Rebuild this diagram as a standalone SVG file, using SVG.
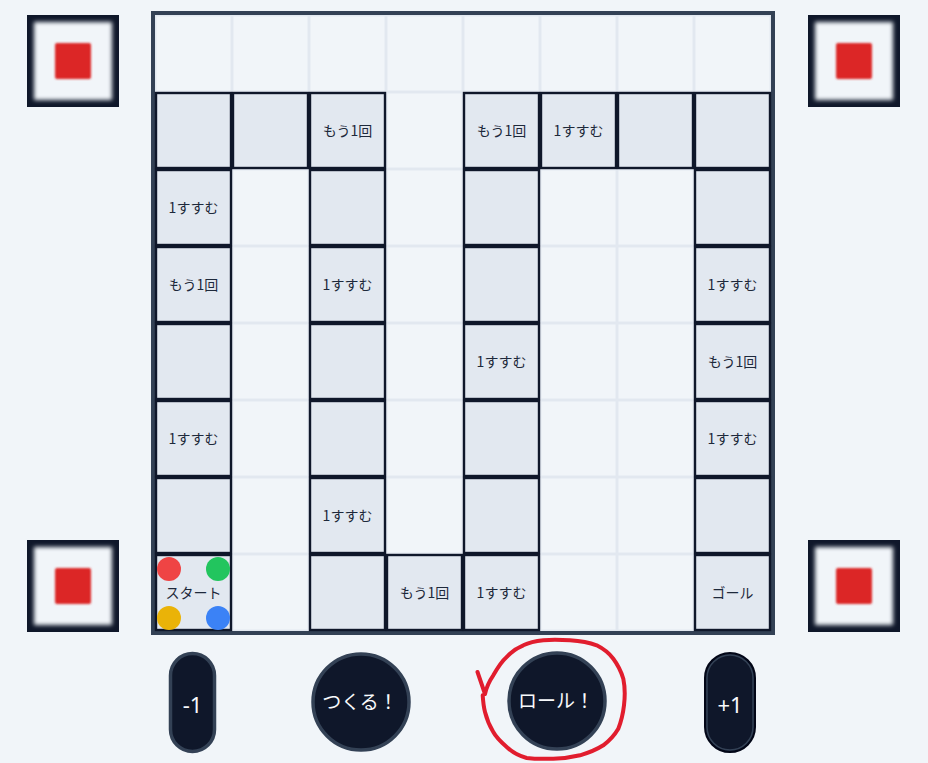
<svg xmlns="http://www.w3.org/2000/svg" width="928" height="763" viewBox="0 0 928 763">
<style>
.e{fill:#f1f5f9}
.p{fill:#e2e8f0;stroke:#0f172a;stroke-width:2.4}
.t{font-family:"Noto Sans CJK JP","Noto Sans",sans-serif;font-size:14px;fill:#1e293b;text-anchor:middle}
.bt{font-family:"Noto Sans CJK JP","Noto Sans",sans-serif;font-size:19px;fill:#f8fafc;text-anchor:middle}
.bn{font-family:"Noto Sans","Noto Sans CJK JP",sans-serif;font-size:22px;fill:#f8fafc;text-anchor:middle}
.box{fill:#0f172a}
.boxin{fill:#f1f5f9}
.sq{fill:#dc2626}
.btn{fill:#0f172a;stroke:#334155;stroke-width:3.5}
</style>
<defs>
<filter id="soft" x="-20%" y="-20%" width="140%" height="140%"><feGaussianBlur stdDeviation="2"/></filter>
<filter id="soft2" x="-20%" y="-20%" width="140%" height="140%"><feGaussianBlur stdDeviation="0.9"/></filter>
</defs>
<rect width="928" height="763" fill="#f1f5f9"/>

<g id="corner-tl"><rect class="box" x="27" y="15" width="92" height="92"/><rect class="boxin" x="34" y="22" width="78" height="78" filter="url(#soft)"/><rect class="sq" x="55" y="43" width="36" height="36" rx="2" filter="url(#soft2)"/></g>
<g id="corner-tr"><rect class="box" x="808" y="15" width="92" height="92"/><rect class="boxin" x="815" y="22" width="78" height="78" filter="url(#soft)"/><rect class="sq" x="836" y="43" width="36" height="36" rx="2" filter="url(#soft2)"/></g>
<g id="corner-bl"><rect class="box" x="27" y="540" width="92" height="92"/><rect class="boxin" x="34" y="547" width="78" height="78" filter="url(#soft)"/><rect class="sq" x="55" y="568" width="36" height="36" rx="2" filter="url(#soft2)"/></g>
<g id="corner-br"><rect class="box" x="808" y="540" width="92" height="92"/><rect class="boxin" x="815" y="547" width="78" height="78" filter="url(#soft)"/><rect class="sq" x="836" y="568" width="36" height="36" rx="2" filter="url(#soft2)"/></g>

<g id="board">
<rect x="153" y="13" width="620" height="620" fill="#e2e8f0" stroke="#334155" stroke-width="4"/>
<g id="empty-cells">
<rect class="e" x="156.5" y="16.5" width="74" height="74"/><rect class="e" x="233.5" y="16.5" width="74" height="74"/><rect class="e" x="310.5" y="16.5" width="74" height="74"/><rect class="e" x="387.5" y="16.5" width="74" height="74"/><rect class="e" x="464.5" y="16.5" width="74" height="74"/><rect class="e" x="541.5" y="16.5" width="74" height="74"/><rect class="e" x="618.5" y="16.5" width="74" height="74"/><rect class="e" x="695.5" y="16.5" width="74" height="74"/>
<rect class="e" x="387.5" y="93.5" width="74" height="74"/>
<rect class="e" x="233.5" y="170.5" width="74" height="74"/><rect class="e" x="387.5" y="170.5" width="74" height="74"/><rect class="e" x="541.5" y="170.5" width="74" height="74"/><rect class="e" x="618.5" y="170.5" width="74" height="74"/>
<rect class="e" x="233.5" y="247.5" width="74" height="74"/><rect class="e" x="387.5" y="247.5" width="74" height="74"/><rect class="e" x="541.5" y="247.5" width="74" height="74"/><rect class="e" x="618.5" y="247.5" width="74" height="74"/>
<rect class="e" x="233.5" y="324.5" width="74" height="74"/><rect class="e" x="387.5" y="324.5" width="74" height="74"/><rect class="e" x="541.5" y="324.5" width="74" height="74"/><rect class="e" x="618.5" y="324.5" width="74" height="74"/>
<rect class="e" x="233.5" y="401.5" width="74" height="74"/><rect class="e" x="387.5" y="401.5" width="74" height="74"/><rect class="e" x="541.5" y="401.5" width="74" height="74"/><rect class="e" x="618.5" y="401.5" width="74" height="74"/>
<rect class="e" x="233.5" y="478.5" width="74" height="74"/><rect class="e" x="387.5" y="478.5" width="74" height="74"/><rect class="e" x="541.5" y="478.5" width="74" height="74"/><rect class="e" x="618.5" y="478.5" width="74" height="74"/>
<rect class="e" x="233.5" y="555.5" width="74" height="74"/><rect class="e" x="541.5" y="555.5" width="74" height="74"/><rect class="e" x="618.5" y="555.5" width="74" height="74"/>
</g>
</g>

<g id="cell-r1c0"><rect class="p" x="156" y="93" width="75" height="75"/></g>
<g id="cell-r1c1"><rect class="p" x="233" y="93" width="75" height="75"/></g>
<g id="cell-r1c2"><rect class="p" x="310" y="93" width="75" height="75"/><text class="t" x="347.5" y="135.5">もう1回</text></g>
<g id="cell-r1c4"><rect class="p" x="464" y="93" width="75" height="75"/><text class="t" x="501.5" y="135.5">もう1回</text></g>
<g id="cell-r1c5"><rect class="p" x="541" y="93" width="75" height="75"/><text class="t" x="578.5" y="135.5">1すすむ</text></g>
<g id="cell-r1c6"><rect class="p" x="618" y="93" width="75" height="75"/></g>
<g id="cell-r1c7"><rect class="p" x="695" y="93" width="75" height="75"/></g>

<g id="cell-r2c0"><rect class="p" x="156" y="170" width="75" height="75"/><text class="t" x="193.5" y="212.5">1すすむ</text></g>
<g id="cell-r2c2"><rect class="p" x="310" y="170" width="75" height="75"/></g>
<g id="cell-r2c4"><rect class="p" x="464" y="170" width="75" height="75"/></g>
<g id="cell-r2c7"><rect class="p" x="695" y="170" width="75" height="75"/></g>

<g id="cell-r3c0"><rect class="p" x="156" y="247" width="75" height="75"/><text class="t" x="193.5" y="289.5">もう1回</text></g>
<g id="cell-r3c2"><rect class="p" x="310" y="247" width="75" height="75"/><text class="t" x="347.5" y="289.5">1すすむ</text></g>
<g id="cell-r3c4"><rect class="p" x="464" y="247" width="75" height="75"/></g>
<g id="cell-r3c7"><rect class="p" x="695" y="247" width="75" height="75"/><text class="t" x="732.5" y="289.5">1すすむ</text></g>

<g id="cell-r4c0"><rect class="p" x="156" y="324" width="75" height="75"/></g>
<g id="cell-r4c2"><rect class="p" x="310" y="324" width="75" height="75"/></g>
<g id="cell-r4c4"><rect class="p" x="464" y="324" width="75" height="75"/><text class="t" x="501.5" y="366.5">1すすむ</text></g>
<g id="cell-r4c7"><rect class="p" x="695" y="324" width="75" height="75"/><text class="t" x="732.5" y="366.5">もう1回</text></g>

<g id="cell-r5c0"><rect class="p" x="156" y="401" width="75" height="75"/><text class="t" x="193.5" y="443.5">1すすむ</text></g>
<g id="cell-r5c2"><rect class="p" x="310" y="401" width="75" height="75"/></g>
<g id="cell-r5c4"><rect class="p" x="464" y="401" width="75" height="75"/></g>
<g id="cell-r5c7"><rect class="p" x="695" y="401" width="75" height="75"/><text class="t" x="732.5" y="443.5">1すすむ</text></g>

<g id="cell-r6c0"><rect class="p" x="156" y="478" width="75" height="75"/></g>
<g id="cell-r6c2"><rect class="p" x="310" y="478" width="75" height="75"/><text class="t" x="347.5" y="520.5">1すすむ</text></g>
<g id="cell-r6c4"><rect class="p" x="464" y="478" width="75" height="75"/></g>
<g id="cell-r6c7"><rect class="p" x="695" y="478" width="75" height="75"/></g>

<g id="cell-start"><rect class="p" x="156" y="555" width="75" height="75"/><text class="t" x="193.5" y="597.5">スタート</text>
<circle cx="169" cy="569" r="12" fill="#ef4444"/><circle cx="218" cy="569" r="12" fill="#22c55e"/><circle cx="169" cy="618" r="12" fill="#eab308"/><circle cx="218" cy="618" r="12" fill="#3b82f6"/></g>
<g id="cell-r7c2"><rect class="p" x="310" y="555" width="75" height="75"/></g>
<g id="cell-r7c3"><rect class="p" x="387" y="555" width="75" height="75"/><text class="t" x="424.5" y="597.5">もう1回</text></g>
<g id="cell-r7c4"><rect class="p" x="464" y="555" width="75" height="75"/><text class="t" x="501.5" y="597.5">1すすむ</text></g>
<g id="cell-goal"><rect class="p" x="695" y="555" width="75" height="75"/><text class="t" x="732.5" y="597.5">ゴール</text></g>

<g id="btn-minus"><rect class="btn" x="170.5" y="653.5" width="44" height="98" rx="22"/><text class="bn" x="192.5" y="713">-1</text></g>
<g id="btn-make"><circle class="btn" cx="361" cy="702" r="48"/><text class="bt" x="360" y="709">つくる！</text></g>
<g id="btn-roll"><circle class="btn" cx="557" cy="701" r="48"/><text class="bt" x="556" y="708">ロール！</text></g>
<g id="btn-plus"><rect x="705" y="653" width="50" height="99" rx="25" fill="#0f172a" stroke="#020617" stroke-width="2"/><rect x="707" y="655" width="46" height="95" rx="23" fill="none" stroke="#334155" stroke-width="1.5"/><text class="bn" x="730" y="713">+1</text></g>

<g id="connectors">
<path d="M477.5,672 L485,694 C487,685 490,680 493.3,675.3 C498,667 502,661 506.7,657 C512,651 517,648 523.3,645.3 C530,642 536,641 543.3,640.3 C552,639.5 561,639.8 570,640.3 C580,641 589,642.5 596.7,645.3 C604,649 609,653 613.3,658.7 C618,665 621,671 623.3,678.7 C625,687 625,697 624,705.3 C623,714 621,722 618.3,728.7 C614,736 609,741 603.3,745.3 C596,750 588,753 580,755.3 C571,757.5 562,758.5 553.3,758.7 C544,759 535,759 526.7,758 C519,756 512,752 506.7,747 C501,742 496,737 493.3,732 C489,725 486.5,718 485,712 C483.5,706 483,700 482.7,695.3" fill="none" stroke="#e11d2e" stroke-width="4" stroke-linecap="round" stroke-linejoin="round"/>
</g>
</svg>
